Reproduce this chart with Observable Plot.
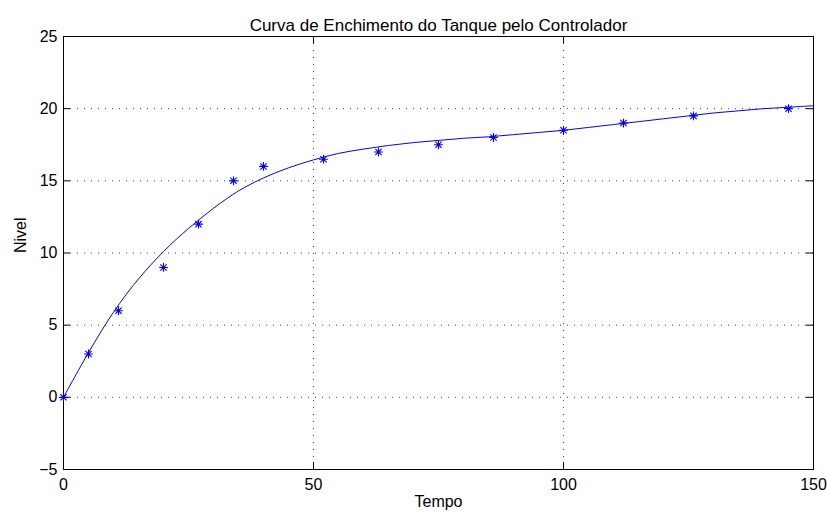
<!DOCTYPE html>
<html>
<head>
<meta charset="utf-8">
<script src="https://cdn.jsdelivr.net/npm/d3@7"></script>
<script src="https://cdn.jsdelivr.net/npm/@observablehq/plot@0.6"></script>
<style>
  html, body { margin: 0; padding: 0; background: #fff; }
  #chart svg { display: block; }
</style>
</head>
<body>
<div id="chart"></div>
<script>
// Measured samples (asterisks)
const sampleTime  = [0, 5, 11, 20, 27, 34, 40, 52, 63, 75, 86, 100, 112, 126, 145];
const sampleLevel = [0, 3, 6, 9, 12, 15, 16, 16.5, 17, 17.5, 18, 18.5, 19, 19.5, 20];

// Fitted curve
const curveTime  = [0, 5, 10, 15, 20, 25, 30, 35, 40, 45, 50, 55, 60, 65, 70, 75, 80, 85, 90, 95, 100, 105, 110, 115, 120, 125, 130, 135, 140, 145, 150];
const curveLevel = [0, 3.1, 5.9, 8.2, 10.1, 11.7, 13.1, 14.3, 15.2, 15.9, 16.45, 16.9, 17.2, 17.45, 17.65, 17.8, 17.95, 18.05, 18.2, 18.35, 18.5, 18.7, 18.9, 19.1, 19.3, 19.5, 19.7, 19.85, 20.0, 20.1, 20.2];

const xTicks = [0, 50, 100, 150];
const yTicks = [-5, 0, 5, 10, 15, 20, 25];

const title = "Curva de Enchimento do Tanque pelo Controlador";
const xLabel = "Tempo";
const yLabel = "Nivel";

const samples = sampleTime.map((t, i) => ({t, v: sampleLevel[i]}));
const curve = curveTime.map((t, i) => ({t, v: curveLevel[i]}));

// MATLAB-like 8-arm asterisk
const asterisk = {
  draw(context, size) {
    const r = Math.sqrt(size) / 2;
    const d = r * Math.SQRT1_2;
    context.moveTo(-r, 0); context.lineTo(r, 0);
    context.moveTo(0, -r); context.lineTo(0, r);
    context.moveTo(-d, -d); context.lineTo(d, d);
    context.moveTo(-d, d); context.lineTo(d, -d);
  }
};

const W = 827, H = 516;
const mL = 63, mR = 14, mT = 36, mB = 47;
const innerW = W - mL - mR, innerH = H - mT - mB;
const tickLen = 7;
const blue = "#0000ff";

const chart = Plot.plot({
  width: W,
  height: H,
  marginLeft: mL,
  marginRight: mR,
  marginTop: mT,
  marginBottom: mB,
  style: {fontFamily: "'Liberation Sans', Arial, Helvetica, sans-serif", fontSize: "16px", color: "#000", background: "#fff", overflow: "visible"},
  x: {domain: [0, 150], ticks: xTicks},
  y: {domain: [-5, 25], ticks: yTicks},
  marks: [
    Plot.gridX(xTicks, {stroke: "#000", strokeOpacity: 0.75, strokeDasharray: "1,6"}),
    Plot.gridY(yTicks, {stroke: "#000", strokeOpacity: 0.75, strokeDasharray: "1,6"}),
    Plot.frame({stroke: "#000"}),
    // inward ticks on all four sides
    Plot.tickY(yTicks, {y: d => d, insetRight: innerW - tickLen, stroke: "#000"}),
    Plot.tickY(yTicks, {y: d => d, insetLeft: innerW - tickLen, stroke: "#000"}),
    Plot.tickX(xTicks, {x: d => d, insetTop: innerH - tickLen, stroke: "#000"}),
    Plot.tickX(xTicks, {x: d => d, insetBottom: innerH - tickLen, stroke: "#000"}),
    Plot.axisX(xTicks, {tickSize: 0, tickPadding: 9, fontSize: 16, label: null, tickFormat: d => d}),
    Plot.axisY(yTicks, {tickSize: 0, tickPadding: 6, fontSize: 16, label: null, tickFormat: d => d < 0 ? "\u2212" + Math.abs(d) : String(d)}),
    Plot.line(curve, {x: "t", y: "v", stroke: blue, strokeWidth: 1, curve: "catmull-rom"}),
    Plot.dot(samples, {x: "t", y: "v", symbol: asterisk, r: 5, stroke: blue, strokeWidth: 1.1, fill: "none"}),
    Plot.text([title], {frameAnchor: "top", dy: -18, fontSize: 17, fill: "#000"}),
    Plot.text([xLabel], {frameAnchor: "bottom", dy: 37, fontSize: 16, fill: "#000"}),
    Plot.text([yLabel], {frameAnchor: "left", dx: -43, rotate: -90, fontSize: 16, fill: "#000"})
  ]
});

document.getElementById("chart").appendChild(chart);
</script>
</body>
</html>
